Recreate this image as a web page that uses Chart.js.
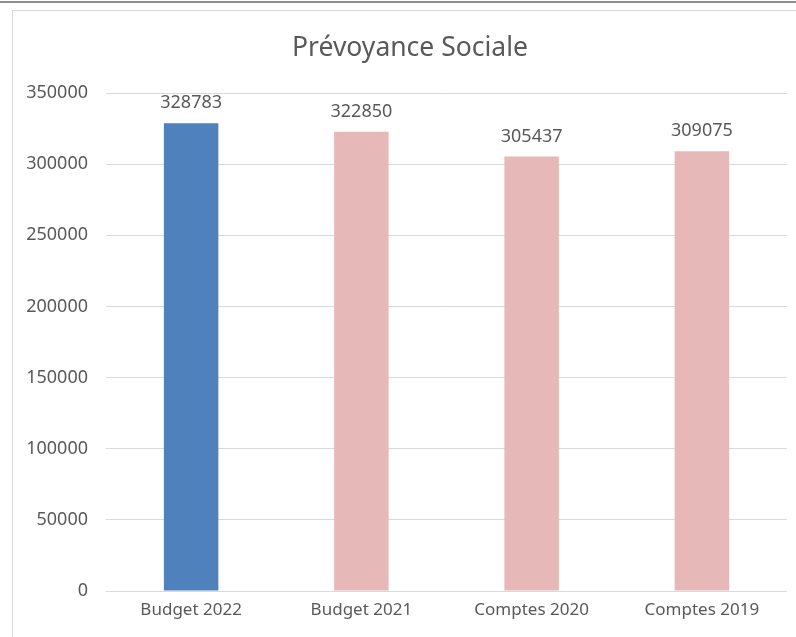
<!DOCTYPE html>
<html>
<head>
<meta charset="utf-8">
<script src="https://cdn.jsdelivr.net/npm/chart.js@4"></script>
<style>
  html, body { margin: 0; padding: 0; background: #fff; }
  #wrap { position: relative; width: 796px; height: 637px; overflow: hidden; }
  #topline { position: absolute; left: 0; top: 1px; width: 796px; height: 2px; background: #8c8c8c; }
  #frame { position: absolute; left: 12px; top: 10px; width: 820px; height: 660px; border: 1px solid #d9d9d9; }
  canvas { position: absolute; left: 0; top: 0; }
</style>
</head>
<body>
<div id="wrap">
  <div id="topline"></div>
  <div id="frame"></div>
  <canvas id="chart" width="796" height="637"></canvas>
</div>
<script>
const categories = ['Budget 2022', 'Budget 2021', 'Comptes 2020', 'Comptes 2019'];
const values = [328783, 322850, 305437, 309075];
const barColors = ['#4f81bd', '#e6b8b7', '#e6b8b7', '#e6b8b7'];
const chartTitle = 'Prévoyance Sociale';

const fontFamily = "'Noto Sans', sans-serif";
const textColor = '#595959';

// title centred on the outer frame, not on the canvas
const frameTitle = {
  id: 'frameTitle',
  afterDraw(chart) {
    const ctx = chart.ctx;
    ctx.save();
    ctx.font = '26.5px ' + fontFamily;
    ctx.fillStyle = textColor;
    ctx.textAlign = 'center';
    ctx.textBaseline = 'middle';
    ctx.fillText(chartTitle, 410, 48);
    ctx.restore();
  }
};

// draws the value above each bar
const valueLabels = {
  id: 'valueLabels',
  afterDatasetsDraw(chart) {
    const ctx = chart.ctx;
    const meta = chart.getDatasetMeta(0);
    ctx.save();
    ctx.font = '18px ' + fontFamily;
    ctx.fillStyle = textColor;
    ctx.textAlign = 'center';
    ctx.textBaseline = 'middle';
    meta.data.forEach((bar, i) => {
      ctx.fillText(String(values[i]), bar.x, bar.y - 20);
    });
    ctx.restore();
  }
};

new Chart(document.getElementById('chart'), {
  type: 'bar',
  data: {
    labels: categories,
    datasets: [{
      data: values,
      backgroundColor: barColors,
      borderWidth: 0,
      categoryPercentage: 1,
      barPercentage: 0.32
    }]
  },
  options: {
    responsive: false,
    animation: false,
    layout: { padding: { left: 0, right: 9, top: 93, bottom: 0 } },
    plugins: {
      legend: { display: false },
      tooltip: { enabled: false },
      title: { display: false }
    },
    scales: {
      x: {
        grid: { display: false },
        border: { display: false },
        ticks: { color: textColor, font: { family: fontFamily, size: 17 }, padding: 1 },
        afterFit(scale) { scale.height = 46; }
      },
      y: {
        min: 0,
        max: 350000,
        grid: { color: '#d9d9d9', drawTicks: false },
        border: { display: false },
        ticks: {
          stepSize: 50000,
          color: textColor,
          font: { family: fontFamily, size: 18 },
          padding: 18,
          callback: v => String(v)
        },
        afterFit(scale) { scale.width = 106; }
      }
    }
  },
  plugins: [valueLabels, frameTitle]
});
</script>
</body>
</html>
